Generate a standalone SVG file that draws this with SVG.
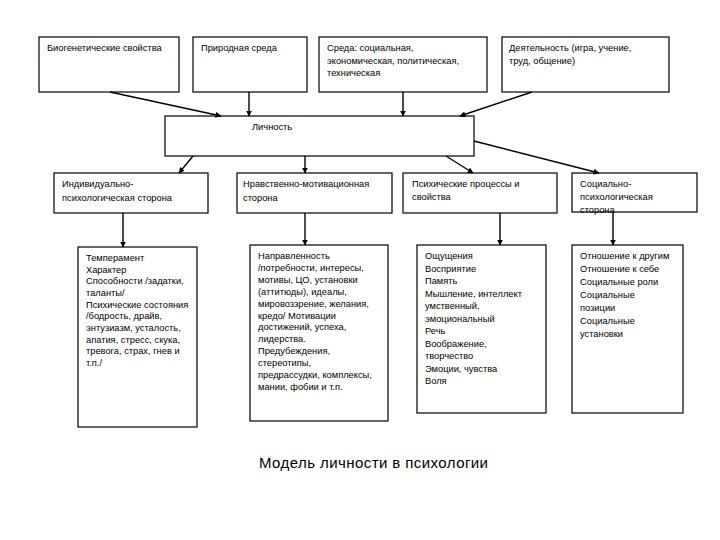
<svg xmlns="http://www.w3.org/2000/svg" width="720" height="540" viewBox="0 0 720 540">
<defs>
<marker id="ah" viewBox="0 0 10 10" refX="9" refY="5" markerWidth="6" markerHeight="6" markerUnits="userSpaceOnUse" orient="auto">
<path d="M0,0 L10,5 L0,10 Z" fill="#000"/>
</marker>
</defs>
<style>
.box{fill:#fff;stroke:#000;stroke-width:1.2}
.t{font-family:"Liberation Sans",Arial,sans-serif;font-size:9.3px;fill:#000}
.c{stroke:#000;stroke-width:1.4;fill:none;marker-end:url(#ah)}
.title{font-family:"Liberation Sans",Arial,sans-serif;font-size:15px;fill:#000}
</style>
<rect width="720" height="540" fill="#fff"/>
<g id="n1"><rect class="box" x="39" y="37" width="140" height="55"/><text class="t" x="47" y="51">Биогенетические свойства</text></g>
<g id="n2"><rect class="box" x="193" y="37" width="114" height="55"/><text class="t" x="201" y="51">Природная среда</text></g>
<g id="n3"><rect class="box" x="319" y="37" width="168" height="55"/><text class="t" x="327" y="51">Среда: социальная,</text><text class="t" x="327" y="63.5">экономическая, политическая,</text><text class="t" x="327" y="76">техническая</text></g>
<g id="n4"><rect class="box" x="502" y="37" width="167" height="55"/><text class="t" x="509" y="51">Деятельность (игра, учение,</text><text class="t" x="509" y="63.5">труд, общение)</text></g>
<g id="n5"><rect class="box" x="165" y="116" width="309" height="40"/><text class="t" x="252" y="130">Личность</text></g>
<g id="n6"><rect class="box" x="54" y="173" width="154" height="40"/><text class="t" x="62" y="187">Индивидуально-</text><text class="t" x="62" y="201">психологическая сторона</text></g>
<g id="n7"><rect class="box" x="237" y="173" width="155" height="40"/><text class="t" x="243" y="187">Нравственно-мотивационная</text><text class="t" x="243" y="201">сторона</text></g>
<g id="n8"><rect class="box" x="403" y="173" width="154" height="40"/><text class="t" x="412" y="187">Психические процессы и</text><text class="t" x="412" y="200">свойства</text></g>
<g id="n9"><rect class="box" x="572" y="173" width="125" height="39"/><text class="t" x="580" y="187">Социально-</text><text class="t" x="580" y="200">психологическая</text><text class="t" x="580" y="212.5">сторона</text></g>
<g id="n10"><rect class="box" x="78" y="247" width="119" height="180"/>
<text class="t" x="86" y="261">Темперамент</text>
<text class="t" x="86" y="272.7">Характер</text>
<text class="t" x="86" y="284.4">Способности /задатки,</text>
<text class="t" x="86" y="296">таланты/</text>
<text class="t" x="86" y="307.7">Психические состояния</text>
<text class="t" x="86" y="319.4">/бодрость, драйв,</text>
<text class="t" x="86" y="331">энтузиазм, усталость,</text>
<text class="t" x="86" y="342.7">апатия, стресс, скука,</text>
<text class="t" x="86" y="354.4">тревога, страх, гнев и</text>
<text class="t" x="86" y="366">т.п./</text></g>
<g id="n11"><rect class="box" x="250" y="245" width="138" height="176"/>
<text class="t" x="258" y="259">Направленность</text>
<text class="t" x="258" y="270.9">/потребности, интересы,</text>
<text class="t" x="258" y="282.8">мотивы, ЦО, установки</text>
<text class="t" x="258" y="294.7">(аттитюды), идеалы,</text>
<text class="t" x="258" y="306.6">мировоззрение, желания,</text>
<text class="t" x="258" y="318.5">кредо/ Мотивации</text>
<text class="t" x="258" y="330.4">достижений, успеха,</text>
<text class="t" x="258" y="342.3">лидерства.</text>
<text class="t" x="258" y="354.2">Предубеждения,</text>
<text class="t" x="258" y="366.1">стереотипы,</text>
<text class="t" x="258" y="378">предрассудки, комплексы,</text>
<text class="t" x="258" y="389.9">мании, фобии и т.п.</text></g>
<g id="n12"><rect class="box" x="417" y="245" width="129" height="168"/>
<text class="t" x="425" y="259">Ощущения</text>
<text class="t" x="425" y="271.5">Восприятие</text>
<text class="t" x="425" y="284">Память</text>
<text class="t" x="425" y="296.5">Мышление, интеллект</text>
<text class="t" x="425" y="309">умственный,</text>
<text class="t" x="425" y="321.5">эмоциональный</text>
<text class="t" x="425" y="334">Речь</text>
<text class="t" x="425" y="346.5">Воображение,</text>
<text class="t" x="425" y="359">творчество</text>
<text class="t" x="425" y="371.5">Эмоции, чувства</text>
<text class="t" x="425" y="384">Воля</text></g>
<g id="n13"><rect class="box" x="572" y="245" width="111" height="168"/>
<text class="t" x="580" y="259">Отношение к другим</text>
<text class="t" x="580" y="272">Отношение к себе</text>
<text class="t" x="580" y="285">Социальные роли</text>
<text class="t" x="580" y="298">Социальные</text>
<text class="t" x="580" y="311">позиции</text>
<text class="t" x="580" y="324">Социальные</text>
<text class="t" x="580" y="337">установки</text></g>
<g id="connectors">
<line class="c" x1="110" y1="92" x2="221" y2="116"/>
<line class="c" x1="249" y1="92" x2="249" y2="116"/>
<line class="c" x1="403" y1="92" x2="403" y2="116"/>
<line class="c" x1="532" y1="92" x2="460" y2="116"/>
<line class="c" x1="193" y1="156" x2="179" y2="173"/>
<line class="c" x1="305" y1="156" x2="305" y2="173"/>
<line class="c" x1="446" y1="156" x2="473" y2="173"/>
<line class="c" x1="474" y1="141" x2="599" y2="173"/>
<line class="c" x1="123" y1="213" x2="123" y2="247"/>
<line class="c" x1="305" y1="213" x2="305" y2="245"/>
<line class="c" x1="500" y1="213" x2="500" y2="245"/>
<line class="c" x1="613" y1="212" x2="613" y2="245"/>
</g>
<text class="title" x="259" y="468" textLength="229" lengthAdjust="spacing">Модель личности в психологии</text>
</svg>
